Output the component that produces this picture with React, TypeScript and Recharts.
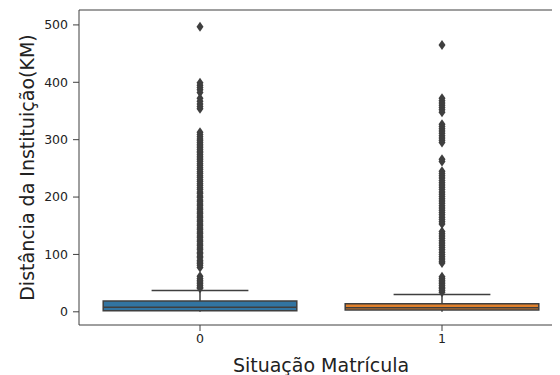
import {
  ComposedChart,
  Scatter,
  XAxis,
  YAxis,
  ReferenceArea,
  ReferenceLine,
} from "recharts";

// categorias (Situação Matrícula)
const categories = [0, 1];

// estatísticas das caixas
const q1 = [2, 3];
const median = [8, 7];
const q3 = [19, 14];
const whiskerLow = [0, 0];
const whiskerHigh = [37, 30];

// outliers (KM) de cada categoria
const outliers0 = [
  497, 399, 395, 391, 387, 382, 372, 367, 362, 358, 354, 313, 309, 305, 301,
  298, 295, 292, 289, 286, 283, 280, 277, 274, 271, 268, 265, 262, 258, 255,
  251, 248, 244, 241, 237, 234, 230, 227, 223, 220, 216, 213, 209, 206, 202,
  199, 195, 192, 188, 185, 181, 178, 174, 171, 167, 164, 160, 157, 153, 150,
  146, 143, 139, 136, 132, 129, 125, 122, 118, 115, 111, 108, 104, 101, 97,
  94, 90, 87, 84, 81, 77, 62, 58, 55, 52, 49, 46, 43, 41,
];
const outliers1 = [
  465, 372, 368, 364, 360, 356, 352, 348, 327, 323, 319, 315, 311, 307, 303,
  299, 295, 266, 262, 245, 241, 237, 233, 229, 225, 221, 217, 213, 209, 205,
  201, 197, 193, 189, 185, 181, 177, 173, 169, 165, 161, 157, 153, 140, 136,
  132, 128, 124, 120, 116, 112, 108, 104, 100, 96, 92, 88, 85, 61, 58, 55,
  52, 49, 46, 43, 40, 37, 34,
];

const yTicks = [0, 100, 200, 300, 400, 500];

const colors = ["#3274a1", "#e1812c"];
const lineColor = "#3f3f3f";
const font = "DejaVu Sans, sans-serif";

const fliers = [
  ...outliers0.map((v) => ({ x: categories[0], y: v })),
  ...outliers1.map((v) => ({ x: categories[1], y: v })),
];

// eslint-disable-next-line @typescript-eslint/no-explicit-any
const Diamond = ({ cx, cy }: any) => (
  <polygon
    points={`${cx},${cy - 5} ${cx + 3.5},${cy} ${cx},${cy + 5} ${cx - 3.5},${cy}`}
    fill={lineColor}
  />
);

// eslint-disable-next-line @typescript-eslint/no-explicit-any
const YLabel = ({ viewBox }: any) => {
  const x = viewBox.x + 19;
  const y = viewBox.y + viewBox.height / 2;
  return (
    <text
      x={x}
      y={y}
      dy="0.355em"
      transform={`rotate(-90 ${x} ${y})`}
      textAnchor="middle"
      fontSize={19}
      fontFamily={font}
      fill="#222"
    >
      Distância da Instituição(KM)
    </text>
  );
};

export default function App() {
  return (
    <div style={{ width: 552, height: 367, overflow: "hidden" }}>
      <ComposedChart
        width={560}
        height={367}
        margin={{ top: 2, right: 5, left: 0, bottom: 0 }}
      >
        <XAxis
          type="number"
          dataKey="x"
          domain={[-0.5, 1.5]}
          ticks={categories}
          allowDataOverflow
          height={50}
          tickSize={6}
          tickMargin={3}
          stroke={lineColor}
          tick={{ fontSize: 12.5, fontFamily: font, fill: "#222" }}
          label={{
            value: "Situação Matrícula",
            position: "insideBottom",
            offset: 3,
            fontSize: 19,
            fontFamily: font,
            fill: "#222",
          }}
        />
        <YAxis
          type="number"
          dataKey="y"
          domain={[-23, 526]}
          ticks={yTicks}
          allowDataOverflow
          width={71}
          tickSize={6}
          tickMargin={5}
          stroke={lineColor}
          tick={{ fontSize: 12.5, fontFamily: font, fill: "#222" }}
          label={<YLabel />}
        />
        <ReferenceLine y={526} stroke={lineColor} ifOverflow="visible" />

        {categories.map((c, i) => (
          <ReferenceLine
            key={`wh-${c}`}
            segment={[
              { x: c, y: q3[i] },
              { x: c, y: whiskerHigh[i] },
            ]}
            stroke={lineColor}
            strokeWidth={1.5}
          />
        ))}
        {categories.map((c, i) => (
          <ReferenceLine
            key={`cap-${c}`}
            segment={[
              { x: c - 0.2, y: whiskerHigh[i] },
              { x: c + 0.2, y: whiskerHigh[i] },
            ]}
            stroke={lineColor}
            strokeWidth={1.5}
          />
        ))}
        {categories.map((c, i) => (
          <ReferenceLine
            key={`wl-${c}`}
            segment={[
              { x: c, y: q1[i] },
              { x: c, y: whiskerLow[i] },
            ]}
            stroke={lineColor}
            strokeWidth={1.5}
          />
        ))}
        {categories.map((c, i) => (
          <ReferenceArea
            key={`box-${c}`}
            x1={c - 0.4}
            x2={c + 0.4}
            y1={q1[i]}
            y2={q3[i]}
            fill={colors[i]}
            fillOpacity={1}
            stroke={lineColor}
            strokeWidth={1.5}
          />
        ))}
        {categories.map((c, i) => (
          <ReferenceLine
            key={`med-${c}`}
            segment={[
              { x: c - 0.4, y: median[i] },
              { x: c + 0.4, y: median[i] },
            ]}
            stroke={lineColor}
            strokeWidth={1.5}
          />
        ))}

        <Scatter
          data={fliers}
          dataKey="y"
          shape={<Diamond />}
          isAnimationActive={false}
        />
      </ComposedChart>
    </div>
  );
}
